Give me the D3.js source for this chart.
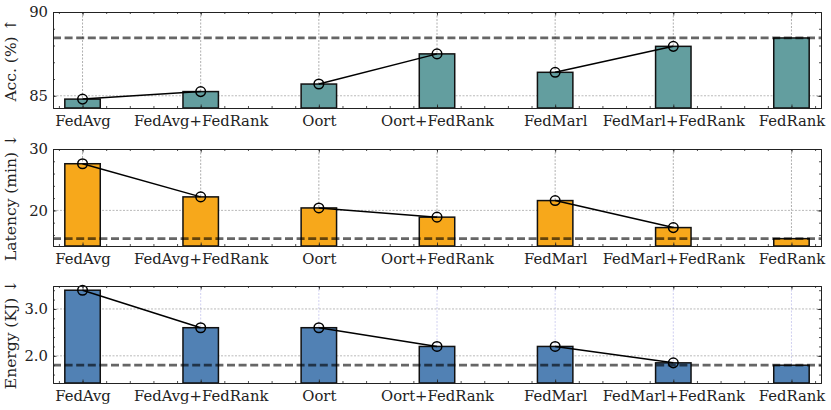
<!DOCTYPE html>
<html>
<head>
<meta charset="utf-8">
<script src="https://cdn.jsdelivr.net/npm/d3@7"></script>
<style>
  body { margin: 0; background: #fff; }
  svg { font-family: "DejaVu Serif", serif; }
  .axis path { stroke: #222; stroke-width: 1; }
  .axis line { stroke: #222; stroke-width: 0.8; }
  .axis text { fill: #222; font-size: 14.8px; font-family: "DejaVu Serif", serif; }
</style>
</head>
<body>
<svg id="chart" width="831" height="410"></svg>
<script>
const categories = ['FedAvg', 'FedAvg+FedRank', 'Oort', 'Oort+FedRank', 'FedMarl', 'FedMarl+FedRank', 'FedRank'];
const accuracy = [84.8, 85.25, 85.7, 87.5, 86.4, 87.95, 88.45];
const latency = [27.6, 22.2, 20.4, 18.9, 21.6, 17.2, 15.4];
const energy = [3.4, 2.6, 2.6, 2.2, 2.2, 1.85, 1.8];
const pairs = [[0, 1], [2, 3], [4, 5]];

const accTicks = [85, 90];
const latTicks = [20, 30];
const energyTicks = [2.0, 3.0];

const panels = [
  {
    label: 'Acc. (%) ↑', values: accuracy, domain: [84.27, 90], ticks: accTicks,
    minor: d3.range(85, 90.01, 1), fmt: d3.format('d'), baseline: accuracy[6],
    color: '#639e9f', top: 12, bottom: 108, vgrid: '#9a9a9a',
  },
  {
    label: 'Latency (min) ↓', values: latency, domain: [14.2, 30], ticks: latTicks,
    minor: d3.range(16, 30.01, 2), fmt: d3.format('d'), baseline: latency[6],
    color: '#f7a81b', top: 149, bottom: 246, vgrid: '#9a9a9a',
  },
  {
    label: 'Energy (KJ) ↓', values: energy, domain: [1.42, 3.49], ticks: energyTicks,
    minor: d3.range(1.6, 3.41, 0.2), fmt: d3.format('.1f'), baseline: energy[6],
    color: '#5181b4', top: 286, bottom: 383, vgrid: '#c4c4ee',
  },
];

const left = 53;
const right = 821;
const barWidth = 0.3;

const svg = d3.select('#chart');
const x = d3.scaleLinear().domain([-0.25, 6.25]).range([0, right - left]);
const xMajor = d3.range(categories.length);
const xMinor = d3.range(-0.2, 6.21, 0.2).map(v => Math.round(v * 10) / 10);

panels.forEach((p) => {
  const h = p.bottom - p.top;
  const w = right - left;
  const y = d3.scaleLinear().domain(p.domain).range([h, 0]);
  const g = svg.append('g').attr('transform', `translate(${left},${p.top})`);

  // grid
  g.append('g').selectAll('line').data(xMajor).join('line')
    .attr('x1', d => x(d)).attr('x2', d => x(d))
    .attr('y1', 0).attr('y2', h)
    .attr('stroke', p.vgrid).attr('stroke-width', 0.8)
    .attr('stroke-dasharray', '2,1.5');
  g.append('g').selectAll('line').data(p.ticks.filter(t => y(t) > 1)).join('line')
    .attr('x1', 0).attr('x2', w)
    .attr('y1', d => y(d)).attr('y2', d => y(d))
    .attr('stroke', '#a8a8a8').attr('stroke-width', 0.8)
    .attr('stroke-dasharray', '2,1.5');

  // bars
  g.append('g').selectAll('rect').data(p.values).join('rect')
    .attr('x', (d, i) => x(i - barWidth / 2))
    .attr('width', x(barWidth) - x(0))
    .attr('y', d => y(d))
    .attr('height', d => h - y(d))
    .attr('fill', p.color)
    .attr('stroke', '#111')
    .attr('stroke-width', 1.5);

  // connecting lines and markers
  const line = d3.line().x(d => x(d)).y(d => y(p.values[d]));
  pairs.forEach((pair) => {
    g.append('path')
      .attr('d', line(pair))
      .attr('fill', 'none')
      .attr('stroke', '#000')
      .attr('stroke-width', 1.5);
    g.append('g').selectAll('circle').data(pair).join('circle')
      .attr('cx', d => x(d))
      .attr('cy', d => y(p.values[d]))
      .attr('r', 4.8)
      .attr('fill', 'none')
      .attr('stroke', '#000')
      .attr('stroke-width', 1.5);
  });

  // FedRank reference line
  g.append('line')
    .attr('x1', 0).attr('x2', w)
    .attr('y1', y(p.baseline)).attr('y2', y(p.baseline))
    .attr('stroke', '#000').attr('stroke-opacity', 0.6)
    .attr('stroke-width', 2.8)
    .attr('stroke-dasharray', '8,3.6');

  // axes
  g.append('g').attr('class', 'axis').attr('transform', `translate(0,${h})`)
    .call(d3.axisBottom(x).tickValues(xMajor).tickSize(-3.5).tickPadding(7)
      .tickFormat(i => categories[i]));
  g.append('g').attr('class', 'axis').attr('transform', `translate(0,${h})`)
    .call(d3.axisBottom(x).tickValues(xMinor).tickSize(-2).tickFormat(''))
    .select('.domain').remove();
  g.append('g').attr('class', 'axis')
    .call(d3.axisTop(x).tickValues(xMajor).tickSize(-3.5).tickFormat(''));
  g.append('g').attr('class', 'axis')
    .call(d3.axisTop(x).tickValues(xMinor).tickSize(-2).tickFormat(''))
    .select('.domain').remove();
  g.append('g').attr('class', 'axis')
    .call(d3.axisLeft(y).tickValues(p.ticks).tickSize(-3.5).tickPadding(5).tickFormat(p.fmt));
  g.append('g').attr('class', 'axis')
    .call(d3.axisLeft(y).tickValues(p.minor).tickSize(-2).tickFormat(''))
    .select('.domain').remove();
  g.append('g').attr('class', 'axis').attr('transform', `translate(${w},0)`)
    .call(d3.axisRight(y).tickValues(p.ticks).tickSize(-3.5).tickFormat(''));
  g.append('g').attr('class', 'axis').attr('transform', `translate(${w},0)`)
    .call(d3.axisRight(y).tickValues(p.minor).tickSize(-2).tickFormat(''))
    .select('.domain').remove();

  // y label
  g.append('text')
    .attr('transform', `translate(${-37},${h / 2}) rotate(-90)`)
    .attr('text-anchor', 'middle')
    .attr('font-size', 15.5)
    .attr('fill', '#222')
    .text(p.label);
});
</script>
</body>
</html>
